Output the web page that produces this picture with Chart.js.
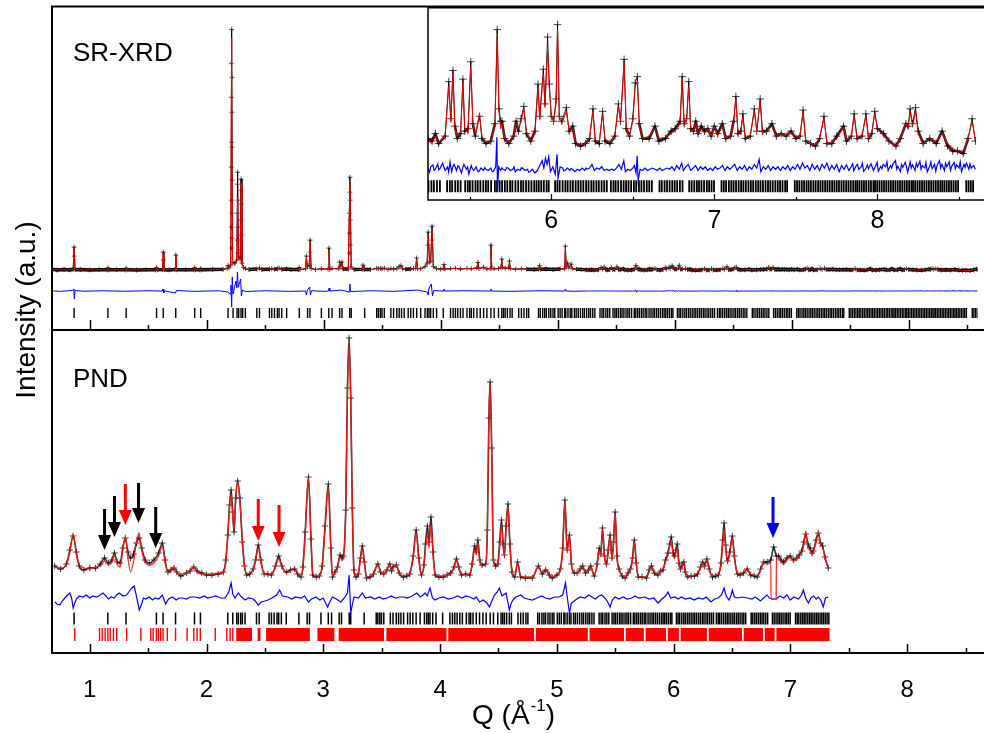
<!DOCTYPE html>
<html>
<head>
<meta charset="utf-8">
<script src="https://cdn.jsdelivr.net/npm/chart.js@4.4.1/dist/chart.umd.min.js"></script>
<style>
html,body{margin:0;padding:0;background:#fff;overflow:hidden}
#wrap{position:relative;width:984px;height:733px}
#wrap canvas{position:absolute;left:0;top:0}
</style>
</head>
<body>
<div id="wrap">
<canvas id="pnd" width="984" height="733"></canvas>
<canvas id="xrd" width="984" height="733"></canvas>
<canvas id="inset" width="984" height="733"></canvas>
</div>
<script>
// ---------- axis ranges and tick labels ----------
const Q_MIN = 0.677, Q_MAX = 8.59;
const INSET_Q_MIN = 5.245, INSET_Q_MAX = 8.605;
const axisMajor = [1, 2, 3, 4, 5, 6, 7, 8];
const axisMinor = [1.5, 2.5, 3.5, 4.5, 5.5, 6.5, 7.5, 8.5];
const insetMajor = [6, 7, 8];
const insetMinor = [5.5, 6.5, 7.5, 8.5];

// ---------- SR-XRD profile: [Q, calculated, observed] ----------
const xrdLow = [
[0.677,0.5,0.8],[0.72,0.3,0.0],[0.78,0.4,0.6],[0.83,0.3,0.2],[0.858,0.6,0.8],[0.866,22,23],[0.874,0.6,0.4],
[0.92,0.3,0.5],[1.0,0.2,0.1],[1.08,0.3,0.4],[1.15,0.3,0.2],[1.155,1.8,2.2],[1.161,0.3,0.3],[1.23,0.2,0.4],
[1.305,0.3,0.2],[1.311,1.6,1.8],[1.317,0.3,0.3],[1.4,0.2,0.1],[1.48,0.3,0.4],[1.565,0.3,0.3],[1.571,2.2,2.4],
[1.577,0.3,0.2],[1.622,0.4,0.5],[1.628,17,18],[1.634,0.4,0.4],[1.68,0.3,0.2],[1.73,0.4,0.5],[1.736,14,15],
[1.742,0.4,0.3],[1.82,0.3,0.4],[1.891,0.3,0.3],[1.897,2,2.3],[1.903,0.3,0.3],[1.942,0.3,0.2],[1.948,1.2,1.3],
[1.954,0.3,0.3],[2.05,0.4,0.5],[2.14,0.8,0.7],[2.175,1.5,1.8],[2.182,4,4.5],[2.19,2,2.4],[2.205,4,5],
[2.213,232,241],[2.22,7,8],[2.24,5,7],[2.257,9,10],[2.264,73,98],[2.271,12,14],[2.286,10,11],[2.293,87,91],
[2.301,6,7],[2.315,2,2.5],[2.33,1.2,1.4],[2.36,0.6,0.5],[2.428,0.8,1],[2.451,1.8,2],[2.47,0.6,0.6],
[2.536,0.8,0.9],[2.556,1.3,1.4],[2.579,0.7,0.8],[2.604,1.2,1.2],[2.618,1.8,2],[2.641,0.8,0.7],[2.683,1.0,1.1],
[2.72,0.4,0.5],[2.785,0.5,0.5],[2.791,2.2,2.4],[2.797,0.5,0.4],[2.845,1.2,1.4],[2.852,13,14],[2.86,3,3.5],
[2.876,4,4.5],[2.884,28,30],[2.892,1.5,1.6],[2.93,0.5,0.6],[2.98,1.2,1.3],[3.037,0.8,0.9],[3.045,20,22],
[3.052,0.8,0.7],[3.071,1.4,1.6],[3.128,1.2,1.3],[3.136,7,8],[3.147,3,3.5],[3.156,7,8],[3.164,1,1.2],
[3.21,1,1.1],[3.224,87,93],[3.235,2.5,3],[3.26,0.6,0.5],[3.328,0.6,0.7],[3.336,4.5,5],[3.344,0.6,0.6],
[3.4,0.4,0.5],[3.453,1.5,1.8],[3.467,1.2,1.4],[3.484,1.6,1.8],[3.498,1,1.1],[3.518,1.8,2],[3.55,0.6,0.5],
[3.574,1.4,1.5],[3.597,1,1.2],[3.625,1.2,1.3],[3.645,3,3.3],[3.66,4,4.4],[3.675,1.2,1.3],[3.7,0.8,0.9],
[3.744,1,1],[3.767,1.4,1.6],[3.786,1.5,1.6],[3.794,11,12],[3.802,1.5,1.6],[3.829,1.2,1.4],[3.866,3,3.4],
[3.884,6,7],[3.893,36,38],[3.905,7,8],[3.914,8,9],[3.926,40,44],[3.937,3,3.5],[3.965,1.4,1.5],[4.0,0.8,0.9],
[4.022,1.5,1.6],[4.028,5,5.5],[4.036,1,1.1],[4.084,1.2,1.4],[4.126,1.6,1.8],[4.169,1,1.1],[4.225,1.4,1.6],
[4.262,1.2,1.3],[4.31,2,2.3],[4.318,7,7.5],[4.326,1.5,1.6],[4.367,2.5,2.8],[4.395,1,1.2],[4.423,1.5,1.6],
[4.43,23,25],[4.437,1.5,1.6],[4.457,1.2,1.3],[4.494,1.4,1.5],[4.515,2,2.3],[4.522,10,11],[4.53,2.5,2.8],
[4.551,1.6,1.8],[4.582,2,2.2],[4.588,8,9],[4.595,1.4,1.5],[4.64,0.8,0.9],[4.69,1.2,1.4],[4.735,0.8,0.9],
[4.8,0.6,0.7],[4.838,0.8,0.9],[4.845,4,4.4],[4.852,0.8,0.8],[4.9,0.9,1],[4.96,0.6,0.7],[5.02,1,1.1],
[5.06,1.2,1.3],[5.066,22,24],[5.073,3,3.4],[5.085,6,7],[5.095,2,2.3],[5.115,5,6],[5.125,1.2,1.4],
[5.16,0.8,0.9],[5.2,0.6,0.7]
];
const xrdHigh = [
[5.245,0.1,0.2],[5.27,0.0,0.1],[5.29,0.3,0.4],[5.31,0.05,0.0],[5.35,0.3,0.3],[5.372,2.3,2.5],[5.385,0.9,1.0],
[5.398,2.8,2.95],[5.41,0.6,0.7],[5.425,0.3,0.2],[5.445,0.5,0.4],[5.459,2.5,2.6],[5.47,0.6,0.5],[5.49,0.4,0.6],
[5.507,3.1,3.3],[5.52,0.8,0.8],[5.535,0.4,0.3],[5.561,1.2,1.1],[5.575,0.3,0.2],[5.6,0.05,0.0],[5.63,0.1,0.1],
[5.655,0.7,0.8],[5.669,4.3,4.6],[5.68,1.3,1.4],[5.69,0.6,0.9],[5.698,0.8,0.9],[5.715,0.2,0.2],[5.74,0.05,0.0],
[5.77,0.3,0.3],[5.785,0.8,0.9],[5.8,0.6,0.5],[5.815,0.9,1.0],[5.832,1.4,1.5],[5.848,0.5,0.4],[5.875,0.1,0.1],
[5.9,0.4,0.5],[5.919,2.2,2.4],[5.93,1.0,1.1],[5.952,2.8,3.0],[5.962,1.5,1.6],[5.978,3.7,4.3],[5.989,2.2,2.4],
[6.0,1.2,1.1],[6.015,0.9,0.9],[6.03,1.6,1.8],[6.039,4.6,4.8],[6.05,1.0,1.1],[6.065,0.8,0.9],[6.093,1.3,1.45],
[6.11,0.5,0.5],[6.132,0.6,0.7],[6.15,0.05,0.0],[6.18,-0.05,-0.1],[6.21,0.0,0.0],[6.235,0.2,0.2],[6.256,1.3,1.4],
[6.27,0.1,0.1],[6.295,0.1,0.0],[6.315,1.2,1.3],[6.33,0.2,0.1],[6.36,0.05,0.0],[6.39,0.3,0.3],[6.412,1.5,1.6],
[6.425,0.9,0.9],[6.447,3.2,3.4],[6.46,0.6,0.6],[6.48,0.3,0.3],[6.5,0.9,1.0],[6.515,2.3,2.45],[6.528,2.5,2.7],
[6.54,0.7,0.8],[6.56,0.2,0.2],[6.6,0.3,0.2],[6.636,0.6,0.7],[6.66,0.2,0.1],[6.7,0.25,0.2],[6.735,0.4,0.5],
[6.76,0.5,0.6],[6.79,0.8,0.9],[6.803,2.6,2.7],[6.815,0.7,0.8],[6.83,0.9,1.0],[6.843,2.3,2.5],[6.855,0.6,0.6],
[6.872,0.5,0.5],[6.886,0.8,0.9],[6.9,0.4,0.4],[6.92,0.6,0.7],[6.94,0.4,0.5],[6.96,0.6,0.6],[6.98,0.3,0.3],
[7.0,0.7,0.7],[7.02,0.3,0.4],[7.049,0.7,0.8],[7.07,0.2,0.2],[7.1,0.3,0.3],[7.118,0.8,0.9],[7.132,1.8,1.9],
[7.145,0.4,0.4],[7.162,0.5,0.5],[7.175,1.05,1.2],[7.19,0.2,0.2],[7.22,0.3,0.3],[7.245,1.3,1.4],[7.26,0.5,0.5],
[7.281,1.7,1.8],[7.295,0.4,0.5],[7.32,0.5,0.5],[7.353,0.7,0.8],[7.38,0.3,0.3],[7.41,0.4,0.4],[7.44,0.3,0.3],
[7.47,0.45,0.5],[7.5,0.2,0.2],[7.525,0.3,0.3],[7.544,1.25,1.35],[7.56,0.1,0.1],[7.59,0.0,0.0],[7.62,-0.05,-0.1],
[7.645,0.2,0.2],[7.672,1.0,1.1],[7.69,0.0,0.0],[7.72,0.05,0.0],[7.75,0.2,0.3],[7.792,0.65,0.7],[7.81,0.15,0.1],
[7.84,0.3,0.3],[7.857,1.1,1.2],[7.875,0.2,0.2],[7.905,0.3,0.3],[7.929,1.1,1.2],[7.945,0.2,0.2],[7.965,0.4,0.4],
[7.983,1.2,1.3],[8.0,0.6,0.6],[8.037,0.3,0.4],[8.07,0.1,0.1],[8.113,-0.1,-0.1],[8.14,0.2,0.2],[8.174,0.8,0.8],
[8.188,0.6,0.7],[8.2,1.3,1.4],[8.215,0.7,0.8],[8.233,1.3,1.45],[8.25,0.4,0.5],[8.28,-0.05,0.0],[8.32,0.2,0.2],
[8.36,0.1,0.0],[8.396,0.4,0.5],[8.43,0.0,-0.1],[8.461,-0.2,-0.3],[8.49,-0.3,-0.3],[8.526,-0.3,-0.4],
[8.555,0.2,0.2],[8.58,0.9,1.0],[8.6,0.1,0.1]
];
// observed points on the flanks of the strongest reflections: [Q, observed]
const xrdFlank = [
[2.209,207],[2.217,193],[2.21,173],[2.216,158],[2.211,128],[2.215,123],[2.21,103],[2.216,90],[2.211,70],
[2.215,57],[2.21,43],[2.216,32],[2.211,22],[2.262,86],[2.266,70],[2.262,57],[2.266,43],[2.262,30],[2.266,17],
[2.291,80],[2.295,66],[2.291,50],[2.295,35],[2.291,20],[3.222,78],[3.226,70],[3.222,57],[3.226,50],
[3.222,37],[3.226,25],[3.222,17],[3.891,25],[3.924,30],[2.882,18],[1.628,10],[0.866,14]
];
// SR-XRD difference (obs - calc): [Q, value]
const xrdDiff = [
[0.677,0.2],[0.75,-0.3],[0.82,0.3],[0.86,1],[0.864,2],[0.868,-8],[0.874,0.5],[0.95,-0.2],[1.1,0.3],[1.3,-0.2],
[1.5,0.3],[1.62,0],[1.626,2],[1.632,-2],[1.64,0.2],[1.733,-2],[1.74,0.5],[1.9,-0.3],[2.1,0.3],[2.18,-1],
[2.2,-3],[2.207,6],[2.213,-16],[2.218,14],[2.225,-3],[2.24,5],[2.25,10],[2.257,3],[2.262,19],[2.27,4],
[2.28,8],[2.29,12],[2.296,-5],[2.305,1],[2.33,-0.5],[2.5,0.3],[2.7,-0.3],[2.845,0],[2.852,-4],[2.86,1],
[2.88,4],[2.886,-4],[2.895,0.3],[3.0,-0.3],[3.04,0],[3.046,3],[3.052,0],[3.15,1],[3.218,-1],[3.223,7],
[3.23,-0.5],[3.4,0.3],[3.6,-0.3],[3.8,1],[3.885,-1],[3.893,-4],[3.9,3],[3.92,7],[3.93,-5],[3.94,0.5],
[4.02,0],[4.028,2],[4.035,0],[4.2,0.3],[4.425,0],[4.43,2],[4.436,0],[4.6,-0.3],[4.85,0.3],[5.06,0],
[5.066,2],[5.072,0],[5.15,-0.2],
[5.245,0.05],[5.255,-0.12],[5.262,0.1],[5.275,0.18],[5.283,-0.05],[5.29,0.0],[5.305,0.22],[5.311,-0.02],
[5.32,0.05],[5.335,0.25],[5.343,0.08],[5.35,-0.05],[5.365,0.1],[5.372,-0.12],[5.38,0.3],[5.39,-0.1],[5.398,0.12],
[5.405,0.2],[5.42,-0.05],[5.428,0.14],[5.435,0.1],[5.45,-0.15],[5.457,0.04],[5.465,0.2],[5.48,0.0],[5.488,0.09],
[5.495,-0.2],[5.51,0.15],[5.517,0.02],[5.525,-0.05],[5.54,0.1],[5.548,-0.06],[5.555,-0.1],[5.57,0.05],
[5.585,-0.05],[5.593,0.07],[5.6,0.0],[5.615,-0.05],[5.63,0.05],[5.638,-0.08],[5.645,-0.1],[5.66,0.1],[5.667,1.3],
[5.671,-0.9],[5.678,0.1],[5.69,-0.05],[5.698,0.06],[5.705,0.0],[5.72,-0.05],[5.727,0.07],[5.735,0.05],
[5.75,-0.05],[5.765,0.0],[5.772,0.1],[5.78,-0.1],[5.795,0.0],[5.81,-0.05],[5.817,0.06],[5.825,0.05],
[5.84,-0.05],[5.855,0.0],[5.862,-0.12],[5.87,-0.1],[5.885,0.0],[5.9,-0.15],[5.915,-0.05],[5.93,0.15],
[5.945,0.35],[5.955,0.05],[5.965,0.45],[5.975,0.2],[5.985,0.5],[5.995,-0.1],[6.01,0.1],[6.025,-0.2],[6.036,0.6],
[6.042,-0.35],[6.055,0.1],[6.07,0.05],[6.077,-0.06],[6.085,-0.05],[6.1,0.05],[6.115,-0.05],[6.122,0.04],
[6.13,0.0],[6.145,-0.1],[6.16,0.0],[6.175,-0.05],[6.19,0.05],[6.205,-0.05],[6.213,0.05],[6.22,0.0],[6.235,0.05],
[6.25,0.2],[6.265,-0.05],[6.28,0.05],[6.295,0.0],[6.31,0.1],[6.325,-0.05],[6.34,0.0],[6.355,-0.05],[6.37,0.0],
[6.385,-0.05],[6.4,0.05],[6.415,0.2],[6.43,0.0],[6.445,0.35],[6.455,-0.1],[6.47,0.0],[6.485,-0.05],[6.5,0.05],
[6.51,0.15],[6.52,-0.15],[6.527,0.55],[6.533,-0.45],[6.545,0.0],[6.56,-0.05],[6.575,0.05],[6.59,-0.05],[6.605,0.0],
[6.62,0.05],[6.635,0.0],[6.65,-0.05],[6.665,0.05],[6.68,-0.05],[6.695,0.0],[6.71,0.05],[6.725,0.0],[6.74,0.1],
[6.755,-0.05],[6.77,0.15],[6.785,0.0],[6.8,0.25],[6.81,-0.05],[6.825,0.1],[6.84,0.2],[6.855,-0.05],[6.87,0.05],
[6.885,0.15],[6.9,-0.05],[6.915,0.1],[6.93,0.0],[6.945,0.1],[6.96,-0.05],[6.975,0.05],[6.99,-0.05],[7.005,0.1],
[7.02,0.0],[7.035,0.05],[7.05,0.15],[7.065,-0.05],[7.08,0.1],[7.095,0.0],[7.11,0.1],[7.125,0.2],[7.14,-0.05],
[7.155,0.1],[7.17,0.0],[7.185,0.15],[7.2,-0.05],[7.215,0.1],[7.23,0.0],[7.245,0.2],[7.26,0.05],[7.275,0.4],
[7.285,-0.1],[7.3,0.1],[7.315,0.0],[7.33,0.15],[7.345,-0.05],[7.36,0.1],[7.375,0.0],[7.39,0.1],[7.405,-0.05],
[7.42,0.1],[7.435,0.0],[7.45,0.15],[7.465,-0.05],[7.48,0.1],[7.495,0.0],[7.51,0.2],[7.525,0.0],[7.54,0.25],
[7.555,0.05],[7.57,0.15],[7.585,-0.05],[7.6,0.2],[7.615,0.0],[7.63,0.15],[7.645,-0.05],[7.66,0.2],[7.675,0.05],
[7.69,0.25],[7.705,-0.05],[7.72,0.15],[7.735,0.0],[7.75,0.2],[7.765,-0.1],[7.78,0.15],[7.795,0.0],
[7.81,0.18],[7.818,0.05],[7.825,-0.05],[7.84,0.12],[7.848,0.22],[7.855,-0.06],[7.87,0.15],[7.877,0.2],[7.885,0.0],
[7.9,0.1],[7.907,0.25],[7.915,-0.08],[7.93,0.05],[7.938,0.18],[7.945,0.02],[7.96,0.22],[7.968,0.08],[7.975,-0.05],
[7.99,0.15],[7.998,0.28],[8.005,-0.08],[8.02,0.12],[8.027,0.02],[8.035,0.2],[8.05,0.1],[8.058,0.3],[8.065,-0.05],
[8.08,0.15],[8.087,0.05],[8.095,0.22],[8.11,0.35],[8.118,0.0],[8.125,0.12],[8.14,-0.1],[8.147,0.2],[8.155,0.08],
[8.17,0.28],[8.178,0.1],[8.185,-0.12],[8.2,0.3],[8.207,0.05],[8.215,0.18],[8.23,-0.05],[8.238,0.25],[8.245,0.1],
[8.26,0.32],[8.267,0.0],[8.275,0.15],[8.29,0.05],[8.297,0.28],[8.305,-0.1],[8.32,0.12],[8.327,0.3],[8.335,0.02],
[8.35,0.2],[8.357,-0.08],[8.365,0.15],[8.38,0.35],[8.387,0.05],[8.395,0.2],[8.41,-0.05],[8.417,0.25],[8.425,0.1],
[8.44,0.3],[8.447,-0.05],[8.455,0.12],[8.47,0.28],[8.477,0.02],[8.485,0.18],[8.5,0.05],[8.507,0.3],[8.515,-0.1],
[8.53,0.2],[8.537,0.08],[8.545,0.25],[8.56,0.0],[8.567,0.22],[8.575,0.05],[8.59,0.15],[8.6,0.0]
];
// Bragg reflection positions of the main phase (Q, 1/Å)
const mainPhaseTicks = [
0.866,1.155,1.311,1.571,1.628,1.735,1.897,1.948,2.182,2.225,2.259,2.273,2.293,2.307,2.33,2.428,2.451,2.536,
2.556,2.579,2.604,2.618,2.641,2.683,2.791,2.862,2.882,2.98,3.043,3.071,3.136,3.156,3.222,3.235,3.35,3.453,
3.467,3.484,3.498,3.518,3.574,3.597,3.625,3.645,3.665,3.688,3.722,3.744,3.767,3.795,3.829,3.866,3.886,3.9,
3.914,3.937,3.965,4.022,4.084,4.106,4.126,4.146,4.169,4.191,4.225,4.248,4.262,4.282,4.31,4.338,4.367,4.395,
4.429,4.457,4.494,4.522,4.537,4.551,4.57,4.593,4.611,4.667,4.69,4.712,4.735,4.752,
4.836,4.851,4.872,4.889,4.903,4.924,4.941,4.96,4.975,
5.004,5.021,5.038,5.06,5.069,5.088,5.107,5.121,5.143,5.158,5.176,5.195,5.214,5.229,5.248,5.266,5.281,5.3,5.318,
5.362,5.379,5.393,5.412,5.428,5.445,
5.473,5.489,5.502,5.518,5.536,5.55,5.566,5.584,5.6,5.614,5.632,
5.655,5.668,5.684,5.699,5.716,5.731,5.748,5.762,5.781,5.798,5.815,5.829,5.846,5.862,5.879,5.896,5.91,5.924,
5.939,5.955,5.972,5.985,
6.024,6.038,6.052,6.07,6.087,6.101,6.118,6.133,6.15,6.166,6.181,6.197,6.214,6.229,6.246,6.26,6.277,6.292,
6.309,6.325,6.341,
6.366,6.382,6.395,6.411,6.428,6.444,6.459,6.474,6.49,6.507,6.521,6.538,6.553,6.569,6.586,6.601,6.617,
6.664,6.678,6.695,6.71,6.726,6.742,6.757,6.772,6.789,6.805,
6.846,6.861,6.877,6.893,6.906,6.921,6.937,6.954,6.968,6.983,6.998,
7.044,7.058,7.072,7.089,7.104,7.118,7.133,7.149,7.164,7.178,7.193,7.209,7.224,7.238,7.254,7.269,7.283,7.298,
7.314,7.329,7.343,7.358,7.374,7.389,7.403,7.418,7.434,7.446,
7.493,7.507,7.521,7.536,7.55,7.565,7.578,7.592,7.607,7.621,7.636,7.65,7.664,7.679,7.693,7.707,7.722,7.736,
7.75,7.764,7.779,7.793,7.808,7.822,7.836,7.851,7.865,7.876,7.889,7.903,7.917,7.931,7.946,7.96,7.975,7.985,
7.998,8.012,8.026,8.04,8.054,8.068,8.082,8.096,8.11,8.124,8.138,8.152,8.166,8.18,8.194,8.208,8.218,8.231,
8.245,8.259,8.273,8.287,8.301,8.315,8.329,8.343,8.357,8.371,8.385,8.397,8.41,8.424,8.438,8.452,8.466,8.48,
8.494,8.544,8.558,8.572,8.586
];

// ---------- PND profile: [Q, calculated, observed] ----------
const pndRows = [
[0.70,3,4],[0.75,2,1],[0.80,5,6],[0.83,18,20],[0.858,36,34],[0.885,16,18],[0.91,5,4],[0.95,2,0],[1.0,1,2],
[1.05,3,2],[1.09,4,6],[1.127,9,12],[1.16,5,7],[1.19,8,10],[1.212,15,17],[1.235,6,8],[1.26,3,7],[1.283,20,22],
[1.305,33,32],[1.327,12,18],[1.35,-2,12],[1.375,8,16],[1.40,28,27],[1.422,37,32],[1.445,20,22],[1.475,7,10],
[1.51,5,7],[1.55,7,10],[1.59,14,17],[1.622,24,27],[1.645,8,10],[1.67,-3,-2],[1.695,-1,0],[1.721,3,2],
[1.745,-3,-2],[1.78,-4,-6],[1.83,-3,-3],[1.86,0,-1],[1.891,3,3],[1.92,-2,-1],[1.96,-4,-3],[2.0,-4,-5],
[2.046,-4,-5],[2.1,-3,-4],[2.145,-2,-2],[2.165,8,10],[2.182,33,35],[2.197,62,65],[2.211,75,80],[2.224,55,58],
[2.236,40,38],[2.25,70,72],[2.267,87,89],[2.285,70,72],[2.307,30,28],[2.325,5,4],[2.344,-4,-5],[2.37,-3,-4],
[2.40,0,1],[2.42,9,10],[2.443,22,25],[2.465,8,10],[2.494,-4,-4],[2.525,-5,-4],[2.556,-4,-5],[2.59,3,4],
[2.618,11,14],[2.645,3,4],[2.683,-3,-2],[2.72,-1,0],[2.754,2,1],[2.78,-3,-4],[2.81,-6,-7],[2.825,2,3],
[2.845,35,38],[2.873,92,93],[2.895,30,31],[2.91,-4,-5],[2.94,-6,-7],[2.966,-6,-6],[2.99,3,4],[3.015,40,44],
[3.043,82,86],[3.065,20,22],[3.079,-6,-7],[3.10,-3,-2],[3.122,2,3],[3.144,13,15],[3.16,10,12],[3.172,12,14],
[3.192,60,60],[3.207,180,182],[3.221,226,232],[3.235,170,172],[3.249,60,62],[3.262,2,0],[3.28,-6,-7],
[3.30,-3,-4],[3.318,10,12],[3.334,22,24],[3.352,6,8],[3.371,-7,-8],[3.40,-6,-7],[3.43,-4,-4],[3.467,5,6],
[3.49,-2,-2],[3.518,-4,-4],[3.545,1,0],[3.569,5,6],[3.585,0,-1],[3.597,2,3],[3.625,5,5],[3.65,-3,-3],
[3.688,-6,-7],[3.715,-5,-6],[3.74,-4,-4],[3.77,12,14],[3.795,37,40],[3.818,10,12],[3.84,-4,-5],[3.862,4,5],
[3.875,22,26],[3.892,35,44],[3.905,22,28],[3.922,45,53],[3.94,15,18],[3.958,-4,-5],[3.99,-6,-7],[4.027,-6,-7],
[4.06,-5,-5],[4.09,-4,-3],[4.12,2,3],[4.14,10,11],[4.16,2,3],[4.183,-4,-5],[4.22,-5,-4],[4.254,-4,-5],
[4.275,5,6],[4.296,20,24],[4.31,16,18],[4.324,27,30],[4.34,8,10],[4.36,4,5],[4.39,5,6],[4.405,40,40],
[4.418,150,152],[4.429,185,188],[4.442,120,122],[4.457,10,10],[4.475,3,4],[4.494,5,6],[4.51,22,28],
[4.526,43,50],[4.54,25,26],[4.551,14,15],[4.565,40,44],[4.582,63,66],[4.598,25,26],[4.616,-1,-2],[4.64,-6,-7],
[4.664,7,8],[4.69,-6,-7],[4.73,-7,-8],[4.79,-7,-8],[4.842,3,4],[4.876,-3,-4],[4.904,1,0],[4.935,-4,-5],
[4.961,-7,-8],[5.0,-4,-5],[5.03,0,1],[5.05,20,22],[5.069,68,70],[5.088,18,20],[5.108,33,35],[5.125,5,6],
[5.15,-2,-3],[5.173,-3,-3],[5.2,0,1],[5.221,3,4],[5.245,-2,-3],[5.27,-1,0],[5.29,3,4],[5.32,-5,-6],[5.345,5,6],
[5.363,20,22],[5.376,14,16],[5.391,40,42],[5.408,12,14],[5.425,5,6],[5.44,18,20],[5.456,33,35],[5.472,10,12],
[5.485,25,28],[5.499,56,58],[5.515,12,14],[5.533,0,1],[5.56,-5,-6],[5.584,-7,-8],[5.61,-2,-3],[5.63,0,1],
[5.648,10,12],[5.663,28,30],[5.68,6,7],[5.697,-6,-7],[5.73,-7,-7],[5.767,-7,-8],[5.79,-1,0],[5.81,3,4],
[5.835,-2,-3],[5.866,-4,-5],[5.89,-2,-1],[5.909,1,0],[5.93,8,10],[5.951,15,17],[5.967,24,26],[5.98,30,33],
[5.995,15,17],[6.008,12,14],[6.02,18,20],[6.031,23,26],[6.045,6,7],[6.059,0,1],[6.073,4,5],[6.087,7,8],
[6.10,-1,-2],[6.121,-6,-7],[6.15,-6,-6],[6.178,-5,-6],[6.205,-3,-4],[6.23,2,3],[6.249,7,8],[6.265,3,4],
[6.285,10,11],[6.305,0,1],[6.333,-6,-7],[6.36,-5,-6],[6.382,-4,-5],[6.405,5,7],[6.42,25,30],[6.432,40,47],
[6.445,22,25],[6.461,8,9],[6.48,15,18],[6.503,32,34],[6.52,12,14],[6.546,-3,-4],[6.57,-4,-5],[6.60,-2,-3],
[6.63,0,1],[6.66,-4,-5],[6.69,-5,-6],[6.715,-6,-7],[6.745,0,1],[6.772,7,8],[6.80,6,8],[6.832,7,10],
[6.834,-29,null],[6.857,null,23],[6.878,-29,null],[6.880,10,14],[6.899,12,14],[6.92,8,10],[6.942,6,8],
[6.97,10,12],[6.998,13,14],[7.025,9,10],[7.055,11,12],[7.075,14,15],[7.097,17,19],[7.115,25,28],[7.131,38,36],
[7.15,22,26],[7.168,20,22],[7.185,15,17],[7.196,18,19],[7.22,28,30],[7.239,38,37],[7.258,25,27],[7.276,23,24],
[7.296,12,13],[7.324,2,2]
];
// PND difference (obs - calc): [Q, value]
const pndDiff = [
[0.702,-2],[0.72,-4],[0.745,-5],[0.765,-1],[0.787,2],[0.81,5],[0.83,7],[0.845,2],[0.858,-8],[0.872,-3],[0.886,1],
[0.91,4],[0.943,3],[0.97,5],[1.0,2],[1.028,4],[1.06,3],[1.09,5],[1.113,7],[1.14,4],[1.16,1],[1.183,3],[1.21,2],
[1.23,5],[1.254,7],[1.285,4],[1.316,5],[1.34,9],[1.36,12],[1.381,14],[1.4,4],[1.424,-10],[1.445,-4],[1.46,2],
[1.48,1],[1.51,3],[1.537,0],[1.56,2],[1.59,1],[1.622,5],[1.65,-4],[1.675,1],[1.707,3],[1.74,0],[1.765,2],
[1.792,2],[1.83,1],[1.86,3],[1.905,3],[1.94,2],[1.98,4],[2.01,2],[2.046,3],[2.08,4],[2.12,2],[2.16,2],[2.19,8],
[2.211,17],[2.225,6],[2.244,2],[2.26,5],[2.273,7],[2.3,3],[2.33,0],[2.36,2],[2.4,1],[2.425,-2],[2.443,-5],
[2.47,-2],[2.5,-1],[2.527,0],[2.56,2],[2.6,5],[2.626,10],[2.65,4],[2.697,3],[2.73,1],[2.76,3],[2.81,2],[2.84,4],
[2.873,-2],[2.9,1],[2.938,3],[2.97,0],[3.0,2],[3.02,-3],[3.037,-7],[3.055,-2],[3.079,3],[3.11,1],[3.15,-2],
[3.18,2],[3.207,7],[3.221,25],[3.235,-13],[3.25,-4],[3.263,3],[3.3,2],[3.334,7],[3.36,2],[3.405,3],[3.44,1],
[3.48,3],[3.51,1],[3.546,2],[3.58,4],[3.62,2],[3.65,3],[3.688,3],[3.72,2],[3.76,4],[3.801,7],[3.83,3],[3.855,5],
[3.872,7],[3.89,4],[3.914,12],[3.935,2],[3.956,0],[3.99,2],[4.03,3],[4.07,1],[4.112,2],[4.15,4],[4.19,2],
[4.22,4],[4.254,3],[4.29,1],[4.31,3],[4.338,-2],[4.37,0],[4.4,-3],[4.423,-7],[4.44,-2],[4.466,5],[4.49,8],
[4.508,12],[4.53,4],[4.565,7],[4.58,-2],[4.593,-10],[4.61,-3],[4.63,1],[4.65,3],[4.692,5],[4.72,2],[4.75,1],
[4.791,0],[4.83,2],[4.87,4],[4.904,2],[4.94,1],[4.98,3],[5.018,3],[5.05,5],[5.074,17],[5.09,2],[5.108,-13],
[5.125,-3],[5.159,0],[5.2,3],[5.24,2],[5.272,5],[5.3,3],[5.329,1],[5.36,4],[5.385,5],[5.42,1],[5.44,-3],
[5.456,-7],[5.475,0],[5.499,3],[5.53,1],[5.57,3],[5.6,1],[5.64,2],[5.67,4],[5.7,2],[5.753,3],[5.79,1],[5.83,2],
[5.866,-3],[5.9,1],[5.93,4],[5.951,8],[5.975,2],[6.01,3],[6.04,1],[6.065,3],[6.1,1],[6.14,2],[6.178,0],[6.21,2],
[6.25,1],[6.28,3],[6.319,-2],[6.35,1],[6.38,2],[6.41,5],[6.432,12],[6.45,4],[6.475,0],[6.49,4],[6.503,10],
[6.52,3],[6.55,2],[6.59,3],[6.63,2],[6.67,1],[6.7,3],[6.744,-1],[6.77,2],[6.8,5],[6.82,2],[6.843,1],[6.88,1],
[6.91,4],[6.942,2],[6.97,5],[6.998,0],[7.03,3],[7.07,1],[7.095,5],[7.111,10],[7.13,2],[7.154,-3],[7.175,2],
[7.2,4],[7.22,1],[7.239,3],[7.26,0],[7.281,-7],[7.3,2],[7.324,3]
];
// second (magnetic) phase reflections: isolated lines, then unresolved blocks [from, to]
const magTicks = [0.872,1.084,1.107,1.132,1.155,1.175,1.203,1.231,1.316,1.438,1.523,1.543,1.571,1.588,1.608,
1.628,1.664,1.735,1.834,1.891,1.919,1.947,2.075,2.174,2.202,2.225];
const magBands = [[2.255,2.39],[2.438,2.462],[2.51,2.885],[2.95,3.095],[3.132,3.52],[3.54,4.055],[4.07,4.805],
[4.82,5.265],[5.28,5.575],[5.59,5.745],[5.76,5.935],[5.95,6.045],[6.06,6.285],[6.30,6.585],[6.60,6.765],
[6.78,6.865],[6.88,7.335]];
const PND_Q_END = 7.34;

// marker arrows over the PND pattern
const arrowQ = [1.127, 1.212, 1.305, 1.418, 1.565, 2.443, 2.621, 6.851];
const arrowTip = [20, 33, 45, 47, 22, 29, 23, 32];
const arrowTail = [61, 74, 86, 87, 63, 71, 65, 73];
const arrowColor = ['#000', '#000', '#ff0000', '#000', '#000', '#ff0000', '#ff0000', '#0000ff'];

// ---------- helpers ----------
const FONT = '"Liberation Sans", Arial, Helvetica, sans-serif';
const xy = (rows, col, off = 0) => rows.filter(r => r[col] !== null && r[col] !== undefined)
  .map(r => ({ x: r[0], y: r[col] + off }));
const row = (qs, y) => qs.map(q => ({ x: q, y }));

function lineSet(data, color, width, extra) {
  return Object.assign({ type: 'line', data, borderColor: color, borderWidth: width, pointRadius: 0,
    tension: 0, fill: false }, extra || {});
}
function tickSet(qs, y, color, half, width, order) {
  return { type: 'line', showLine: false, data: row(qs, y), pointStyle: 'line', pointRotation: 90,
    pointRadius: half, pointBorderWidth: width, pointBorderColor: color, pointBackgroundColor: color, order };
}

function framePlugin(cfg) {
  return {
    id: 'frame',
    beforeDraw(chart) {
      if (!cfg.fill) return;
      const a = chart.chartArea, c = chart.ctx;
      c.save(); c.fillStyle = '#fff'; c.fillRect(a.left, a.top, a.right - a.left + 20, a.bottom - a.top); c.restore();
    },
    afterDraw(chart) {
      const a = chart.chartArea, c = chart.ctx, xs = chart.scales.x;
      c.save();
      c.strokeStyle = '#000';
      c.lineWidth = cfg.lw;
      c.beginPath();
      if (cfg.top) { c.moveTo(a.right + 20, a.top); c.lineTo(a.left, a.top); }
      else c.moveTo(a.left, a.top);
      c.lineTo(a.left, a.bottom);
      c.lineTo(a.right + 20, a.bottom);
      c.stroke();
      c.lineWidth = cfg.tw;
      c.beginPath();
      cfg.major.forEach(v => { const p = Math.round(xs.getPixelForValue(v)) + 0.5; c.moveTo(p, a.bottom); c.lineTo(p, a.bottom - cfg.majorLen); });
      cfg.minor.forEach(v => { const p = Math.round(xs.getPixelForValue(v)) + 0.5; c.moveTo(p, a.bottom); c.lineTo(p, a.bottom - cfg.minorLen); });
      c.stroke();
      if (cfg.labelY) {
        c.fillStyle = '#000'; c.font = cfg.labelFont; c.textAlign = 'center'; c.textBaseline = 'alphabetic';
        cfg.major.forEach(v => c.fillText(String(v), xs.getPixelForValue(v), cfg.labelY));
      }
      (cfg.texts || []).forEach(t => {
        c.fillStyle = '#000'; c.font = t.font; c.textAlign = 'left'; c.textBaseline = 'alphabetic';
        c.fillText(t.text, t.x, t.y);
      });
      if (cfg.after) cfg.after(chart, c);
      c.restore();
    }
  };
}

function makeChart(id, pad, xr, yr, datasets, plugins) {
  return new Chart(document.getElementById(id), {
    type: 'line',
    data: { datasets },
    options: {
      responsive: false, animation: false, devicePixelRatio: 1, events: [],
      layout: { padding: pad },
      plugins: { legend: { display: false }, tooltip: { enabled: false } },
      scales: {
        x: { type: 'linear', min: xr[0], max: xr[1], display: false },
        y: { type: 'linear', min: yr[0], max: yr[1], display: false }
      }
    },
    plugins
  });
}

const xrdRows = xrdLow.concat(xrdHigh);
// observed trace: thick where the dense points crowd along the background, thin on the peaks
const thickBase = (thr, w) => ({ borderWidth: s => (Math.max(s.p0.parsed.y, s.p1.parsed.y) < thr ? w : 1) });

// ---------- PND panel (bottom) ----------
const PND_DIFF = -30, PND_ROW1 = -48.5, PND_ROW2 = -64.5;
const bandData = [];
magBands.forEach(b => { bandData.push({ x: b[0], y: PND_ROW2 }, { x: b[1], y: PND_ROW2 }, { x: b[1] + 0.001, y: null }); });

makeChart('pnd', { left: 52, top: 331, right: 0, bottom: 80 }, [Q_MIN, Q_MAX], [-83, 239], [
  lineSet(xy(pndRows, 1), 'rgba(255,20,20,0.9)', 1.3, { cubicInterpolationMode: 'monotone', spanGaps: true, order: 0 }),
  lineSet(xy(pndRows, 2), 'rgba(0,0,0,0.8)', 1.6, { cubicInterpolationMode: 'monotone', spanGaps: true,
    pointRadius: 3.2, pointStyle: 'cross', pointBorderColor: 'rgba(0,0,0,0.75)', pointBorderWidth: 1, order: 1 }),
  lineSet(pndDiff.map(r => ({ x: r[0], y: r[1] + PND_DIFF })), '#0000ff', 1.2, { order: 2 }),
  tickSet(mainPhaseTicks.filter(q => q <= PND_Q_END), PND_ROW1, '#000', 6, 1.5, 3),
  tickSet(magTicks, PND_ROW2, '#ff0000', 6.5, 1.4, 3),
  lineSet(bandData, '#ff0000', 13, { borderCapStyle: 'butt', spanGaps: false, order: 3 })
], [framePlugin({
  lw: 2, tw: 1.5, top: false, major: axisMajor, minor: axisMinor, majorLen: 9, minorLen: 5,
  labelY: 697, labelFont: '24px ' + FONT,
  texts: [{ text: 'PND', x: 73, y: 387, font: '26px ' + FONT }],
  after(chart, c) {
    const xs = chart.scales.x, ys = chart.scales.y;
    // arrows
    arrowQ.forEach((q, i) => {
      const x = xs.getPixelForValue(q), yt = ys.getPixelForValue(arrowTip[i]), y0 = ys.getPixelForValue(arrowTail[i]);
      c.fillStyle = arrowColor[i]; c.strokeStyle = arrowColor[i];
      c.lineWidth = 3; c.beginPath(); c.moveTo(x, y0); c.lineTo(x, yt - 12); c.stroke();
      c.beginPath(); c.moveTo(x - 6.5, yt - 15); c.lineTo(x + 6.5, yt - 15); c.lineTo(x, yt); c.closePath(); c.fill();
    });
    // axis titles
    c.fillStyle = '#000';
    c.save(); c.translate(27, 310); c.rotate(-Math.PI / 2);
    c.font = '28px ' + FONT; c.textAlign = 'center'; c.textBaseline = 'middle';
    c.fillText('Intensity (a.u.)', 0, 0); c.restore();
    const main = 'Q (Å', sup = '-1', close = ')';
    c.font = '28px ' + FONT; const w1 = c.measureText(main).width, w3 = c.measureText(close).width;
    c.font = '17px ' + FONT; const w2 = c.measureText(sup).width;
    const x0 = 513 - (w1 + w2 + w3) / 2;
    c.textAlign = 'left'; c.textBaseline = 'alphabetic';
    c.font = '28px ' + FONT; c.fillText(main, x0, 724);
    c.font = '17px ' + FONT; c.fillText(sup, x0 + w1 + 1, 711);
    c.font = '28px ' + FONT; c.fillText(close, x0 + w1 + w2 + 1, 724);
  }
})]);

// ---------- SR-XRD panel (top) ----------
const XRD_DIFF = -21, XRD_ROW = -43;
makeChart('xrd', { left: 52, top: 6, right: 0, bottom: 403 }, [Q_MIN, Q_MAX], [-60, 264], [
  lineSet(xy(xrdRows, 1), '#e80000', 1, { order: 0 }),
  lineSet(xy(xrdRows, 2), '#000', 1, { segment: thickBase(1.3, 3.5), pointRadius: 2.5, pointStyle: 'cross',
    pointBorderColor: 'rgba(0,0,0,0.7)', pointBorderWidth: 1, order: 1 }),
  lineSet(xrdFlank.map(r => ({ x: r[0], y: r[1] })), '#000', 0, { showLine: false, pointRadius: 2.5,
    pointStyle: 'cross', pointBorderColor: 'rgba(0,0,0,0.6)', pointBorderWidth: 1, order: 1 }),
  lineSet(xrdDiff.map(r => ({ x: r[0], y: r[1] + XRD_DIFF })), '#0000ff', 1, { order: 2 }),
  tickSet(mainPhaseTicks, XRD_ROW, '#000', 5, 1.4, 3)
], [framePlugin({
  lw: 2, tw: 1.5, top: true, major: axisMajor, minor: axisMinor, majorLen: 10, minorLen: 5,
  texts: [{ text: 'SR-XRD', x: 73, y: 61, font: '26px ' + FONT }]
})]);

// ---------- inset: high-Q SR-XRD region ----------
const INSET_DIFF = -1.04, INSET_ROW = -1.72;
const insetRows = xrdRows.filter(r => r[0] >= 5.2);
makeChart('inset', { left: 428, top: 6, right: 0, bottom: 533 }, [INSET_Q_MIN, INSET_Q_MAX], [-2.28, 5.48], [
  lineSet(xy(insetRows, 1), '#e80000', 1, { order: 0 }),
  lineSet(xy(insetRows, 2), 'rgba(0,0,0,0.85)', 1, { segment: thickBase(0.95, 2.6), borderJoinStyle: 'round',
    borderCapStyle: 'round', pointRadius: 3.8, pointStyle: 'cross',
    pointBorderColor: 'rgba(0,0,0,0.75)', pointBorderWidth: 1, order: 1 }),
  lineSet(xrdDiff.filter(r => r[0] >= 5.2).map(r => ({ x: r[0], y: r[1] + INSET_DIFF })), '#0000ff', 1.2, { order: 2 }),
  tickSet(mainPhaseTicks.filter(q => q >= 5.2), INSET_ROW, '#000', 6, 1.8, 3)
], [framePlugin({
  fill: true, lw: 1.5, tw: 1.2, top: true, major: insetMajor, minor: insetMinor, majorLen: 6, minorLen: 3,
  labelY: 228, labelFont: '25px ' + FONT
})]);
</script>
</body>
</html>
